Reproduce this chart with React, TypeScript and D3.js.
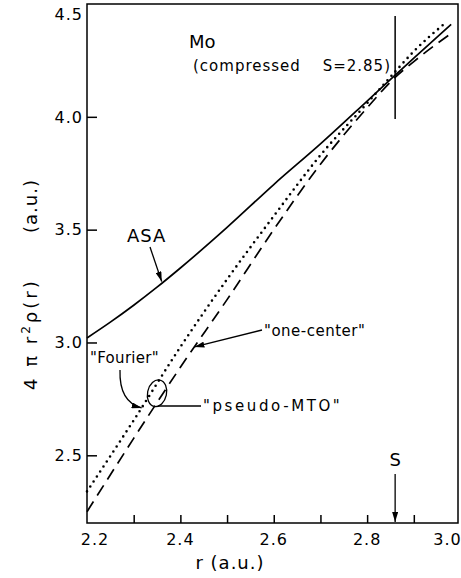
import * as d3 from "d3";
import { useEffect, useRef } from "react";

// radius values (a.u.) and 4 pi r^2 rho(r)
const asaR = [2.2, 2.25, 2.3, 2.35, 2.4, 2.5, 2.6, 2.7, 2.8, 2.86, 2.9, 2.98];
const asaY = [3.02, 3.09, 3.165, 3.245, 3.33, 3.51, 3.7, 3.88, 4.07, 4.185, 4.26, 4.41];

const fourierR = [2.2, 2.3, 2.4, 2.5, 2.6, 2.7, 2.8, 2.86, 2.9, 2.97];
const fourierY = [2.34, 2.655, 2.98, 3.28, 3.56, 3.83, 4.06, 4.2, 4.29, 4.42];

const oneCenterR = [2.2, 2.3, 2.4, 2.5, 2.6, 2.7, 2.8, 2.86, 2.9, 2.98];
const oneCenterY = [2.25, 2.575, 2.89, 3.19, 3.5, 3.79, 4.04, 4.175, 4.245, 4.37];

const xTicks = [2.3, 2.4, 2.5, 2.6, 2.7, 2.8, 2.9];
const xLabels = [2.2, 2.4, 2.6, 2.8, 3.0];
const yTicks = [2.5, 3.0, 3.5, 4.0];
const yLabels = [2.5, 3.0, 3.5, 4.0, 4.5];

const sValue = 2.86;

const FONT = "'DejaVu Sans', sans-serif";

export default function App() {
    const ref = useRef<SVGSVGElement>(null);

    useEffect(() => {
        const width = 461, height = 578;
        const svg = d3.select(ref.current);
        svg.selectAll("*").remove();
        svg.attr("width", width).attr("height", height);

        const x = d3.scaleLinear().domain([2.2, 3.0]).range([87, 460.5]);
        const y = d3.scaleLinear().domain([2.2, 4.5]).range([523, 4]);

        const defs = svg.append("defs");
        defs.append("marker")
            .attr("id", "ah")
            .attr("viewBox", "0 0 10 6")
            .attr("refX", 10)
            .attr("refY", 3)
            .attr("markerWidth", 10)
            .attr("markerHeight", 6)
            .attr("markerUnits", "userSpaceOnUse")
            .attr("orient", "auto")
            .append("path")
            .attr("d", "M0,0 L10,3 L0,6 Z")
            .attr("fill", "black");

        // frame
        svg.append("rect")
            .attr("x", x(2.2))
            .attr("y", y(4.5))
            .attr("width", 458 - x(2.2))
            .attr("height", y(2.2) - y(4.5))
            .attr("fill", "none")
            .attr("stroke", "black")
            .attr("stroke-width", 1.5);

        // x axis ticks (inward)
        const xAxis = svg.append("g")
            .attr("transform", `translate(0,${y(2.2)})`)
            .call(d3.axisBottom(x).tickValues(xTicks).tickSize(-8).tickFormat(() => ""));
        xAxis.select(".domain").remove();
        xAxis.selectAll("line").attr("stroke-width", 1.5);

        svg.append("g")
            .selectAll("text")
            .data(xLabels)
            .enter()
            .append("text")
            .attr("x", d => x(d) + (d === 2.2 ? 8 : d === 3.0 ? -13 : 0))
            .attr("y", 545)
            .attr("text-anchor", "middle")
            .attr("font-family", FONT)
            .attr("font-size", 16)
            .attr("letter-spacing", 1)
            .text(d => d.toFixed(1));

        // y axis ticks (inward)
        const yAxis = svg.append("g")
            .attr("transform", `translate(${x(2.2)},0)`)
            .call(d3.axisLeft(y).tickValues(yTicks).tickSize(-10).tickFormat(() => ""));
        yAxis.select(".domain").remove();
        yAxis.selectAll("line").attr("stroke-width", 1.5);

        svg.append("g")
            .selectAll("text")
            .data(yLabels)
            .enter()
            .append("text")
            .attr("x", 83)
            .attr("y", d => y(d) + (d === 4.5 ? 10 : 0))
            .attr("dy", "0.36em")
            .attr("text-anchor", "end")
            .attr("font-family", FONT)
            .attr("font-size", 16)
            .attr("letter-spacing", 1)
            .text(d => d.toFixed(1));

        // axis titles
        svg.append("text")
            .attr("x", 230)
            .attr("y", 569)
            .attr("text-anchor", "middle")
            .attr("font-family", FONT)
            .attr("font-size", 18)
            .attr("letter-spacing", 1)
            .text("r (a.u.)");

        const yTitle = svg.append("g").attr("transform", "translate(37,0) rotate(-90)");
        const t1 = yTitle.append("text")
            .attr("x", -390)
            .attr("y", 0)
            .attr("font-family", FONT)
            .attr("font-size", 18)
            .attr("letter-spacing", 3);
        t1.append("tspan").text("4 π r");
        t1.append("tspan").attr("dy", -7).attr("font-size", 12).text("2");
        t1.append("tspan").attr("dy", 7).text("ρ(r)");
        yTitle.append("text")
            .attr("x", -179)
            .attr("y", 0)
            .attr("text-anchor", "end")
            .attr("font-family", FONT)
            .attr("font-size", 18)
            .attr("letter-spacing", 1)
            .text("(a.u.)");

        // curves
        const line = d3.line<[number, number]>()
            .x(d => x(d[0]))
            .y(d => y(d[1]))
            .curve(d3.curveMonotoneX);

        svg.append("path")
            .datum(asaR.map((r, i) => [r, asaY[i]] as [number, number]))
            .attr("d", line)
            .attr("fill", "none")
            .attr("stroke", "black")
            .attr("stroke-width", 1.7);

        svg.append("path")
            .datum(fourierR.map((r, i) => [r, fourierY[i]] as [number, number]))
            .attr("d", line)
            .attr("fill", "none")
            .attr("stroke", "black")
            .attr("stroke-width", 2.6)
            .attr("stroke-linecap", "round")
            .attr("stroke-dasharray", "0 6");

        svg.append("path")
            .datum(oneCenterR.map((r, i) => [r, oneCenterY[i]] as [number, number]))
            .attr("d", line)
            .attr("fill", "none")
            .attr("stroke", "black")
            .attr("stroke-width", 1.7)
            .attr("stroke-dasharray", "12 7");

        // S marker: vertical line and arrow
        svg.append("line")
            .attr("x1", x(sValue)).attr("x2", x(sValue))
            .attr("y1", 16).attr("y2", 119)
            .attr("stroke", "black")
            .attr("stroke-width", 1.5);

        svg.append("line")
            .attr("x1", x(sValue)).attr("x2", x(sValue))
            .attr("y1", 474).attr("y2", 522)
            .attr("stroke", "black")
            .attr("stroke-width", 1.3)
            .attr("marker-end", "url(#ah)");

        const label = (tx: number, ty: number, txt: string, size = 15, ls = 1, anchor = "start") =>
            svg.append("text")
                .attr("x", tx)
                .attr("y", ty)
                .attr("text-anchor", anchor)
                .attr("font-family", FONT)
                .attr("font-size", size)
                .attr("letter-spacing", ls)
                .text(txt);

        label(x(sValue), 466, "S", 18, 0, "middle");
        label(189, 48, "Mo", 18, 0);
        label(193, 71, "(compressed", 15, 1);
        label(391, 71, "S=2.85)", 15, 1, "end");
        label(127, 242, "ASA", 18, 1);
        label(264, 336, "\"one-center\"", 15, 0.5);
        label(90, 363, "\"Fourier\"", 15, 0.3);
        label(203, 411, "\"pseudo-MTO\"", 15, 2.6);

        // ASA arrow
        svg.append("line")
            .attr("x1", 150).attr("y1", 247)
            .attr("x2", x(2.36)).attr("y2", y(3.27))
            .attr("stroke", "black")
            .attr("stroke-width", 1.3)
            .attr("marker-end", "url(#ah)");

        // one-center arrow
        svg.append("line")
            .attr("x1", 262).attr("y1", 330)
            .attr("x2", x(2.43)).attr("y2", y(2.98))
            .attr("stroke", "black")
            .attr("stroke-width", 1.3)
            .attr("marker-end", "url(#ah)");

        // Fourier curved arrow
        const fx = x(2.317), fy = y(2.71);
        svg.append("path")
            .attr("d", `M120,370 Q119,${fy - 6} ${fx},${fy}`)
            .attr("fill", "none")
            .attr("stroke", "black")
            .attr("stroke-width", 1.3)
            .attr("marker-end", "url(#ah)");

        // pseudo-MTO ellipse and leader
        const ex = x(2.35), ey = y(2.775);
        svg.append("ellipse")
            .attr("cx", ex).attr("cy", ey)
            .attr("rx", 9.5).attr("ry", 13.5)
            .attr("transform", `rotate(12,${ex},${ey})`)
            .attr("fill", "none")
            .attr("stroke", "black")
            .attr("stroke-width", 1.3);

        svg.append("line")
            .attr("x1", ex + 1).attr("y1", 406)
            .attr("x2", 201).attr("y2", 406)
            .attr("stroke", "black")
            .attr("stroke-width", 1.3);
    }, []);

    return <svg ref={ref} style={{ position: "absolute", left: 0, top: 0, background: "white" }}></svg>;
}
